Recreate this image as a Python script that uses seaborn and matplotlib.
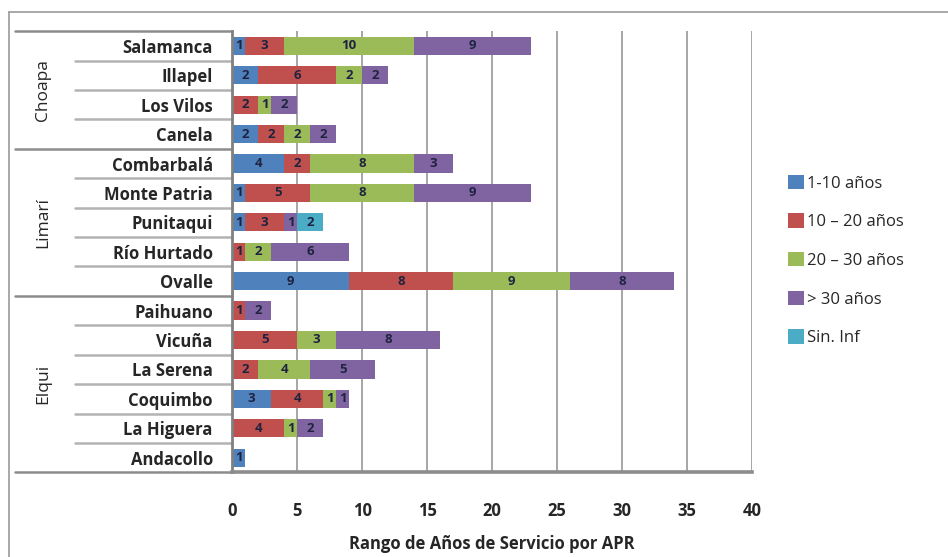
import seaborn as sns
import pandas as pd
import matplotlib.pyplot as plt
from matplotlib.patches import Patch
from matplotlib.lines import Line2D

municipios = ["Salamanca", "Illapel", "Los Vilos", "Canela", "Combarbalá",
              "Monte Patria", "Punitaqui", "Río Hurtado", "Ovalle", "Paihuano",
              "Vicuña", "La Serena", "Coquimbo", "La Higuera", "Andacollo"]
r1_10 = [1, 2, 0, 2, 4, 1, 1, 0, 9, 0, 0, 0, 3, 0, 1]
r10_20 = [3, 6, 2, 2, 2, 5, 3, 1, 8, 1, 5, 2, 4, 4, 0]
r20_30 = [10, 2, 1, 2, 8, 8, 0, 2, 9, 0, 3, 4, 1, 1, 0]
r30 = [9, 2, 2, 2, 3, 9, 1, 6, 8, 2, 8, 5, 1, 2, 0]
sin_inf = [0, 0, 0, 0, 0, 0, 2, 0, 0, 0, 0, 0, 0, 0, 0]

rangos = ["1-10 años", "10 – 20 años", "20 – 30 años", "> 30 años", "Sin. Inf"]
colores = ["#4F81BD", "#C0504D", "#9BBB59", "#8064A2", "#4BACC6"]

provincias = ["Choapa", "Limarí", "Elqui"]
n_por_provincia = [4, 5, 6]

df = pd.DataFrame({"municipio": municipios, rangos[0]: r1_10, rangos[1]: r10_20,
                   rangos[2]: r20_30, rangos[3]: r30, rangos[4]: sin_inf})
largo = df.melt(id_vars="municipio", var_name="rango", value_name="n")

sns.set_style("white")
plt.rcParams["font.family"] = ["Open Sans", "DejaVu Sans"]

fig = plt.figure(figsize=(9.48, 5.57), dpi=100)
ax = fig.add_axes([0.245, 0.152, 0.548, 0.792])

# histplot stacks the last hue level at the base, so pass the order reversed
sns.histplot(data=largo, y="municipio", weights="n", hue="rango",
             hue_order=rangos[::-1], palette=dict(zip(rangos, colores)),
             multiple="stack", discrete=True, shrink=0.62, alpha=1,
             linewidth=0, legend=False, ax=ax)

for c in ax.containers:
    etiquetas = [f"{p.get_width():g}" if p.get_width() > 0 else "" for p in c]
    ax.bar_label(c, labels=etiquetas, label_type="center", fontsize=9.5,
                 fontweight="bold", color="#1f2340")

n = len(municipios)
ax.set_ylim(n - 0.5, -0.5)
ax.set_xlim(0, 40)
ax.set_xticks(range(0, 41, 5))
ax.xaxis.grid(True, color="#a6a6a6", lw=1.4)
ax.yaxis.grid(False)
ax.set_axisbelow(True)

for s in ["top", "right"]:
    ax.spines[s].set_visible(False)
ax.spines["left"].set_color("#808080")
ax.spines["left"].set_linewidth(2)
ax.spines["bottom"].set_color("#8c8c8c")
ax.spines["bottom"].set_linewidth(2.6)

ax.tick_params(axis="x", length=5, width=1.5, color="#8c8c8c", pad=16,
               labelsize=12, labelcolor="#262626")
ax.tick_params(axis="y", length=0, pad=14, labelsize=12, labelcolor="#262626")
for t in ax.get_xticklabels() + ax.get_yticklabels():
    t.set_fontweight("bold")
ax.set_ylabel("")
ax.set_xlabel("Rango de Años de Servicio por APR", fontsize=12,
              fontweight="bold", color="#262626", labelpad=11)

# separator lines of the category table on the left
tr = ax.get_yaxis_transform()
limites_grupo = [-0.5]
acum = -0.5
for k in n_por_provincia:
    acum += k
    limites_grupo.append(acum)
for i in range(n + 1):
    y = i - 0.5
    if y in limites_grupo:
        ax.add_line(Line2D([-0.418, 0], [y, y], transform=tr, color="#8c8c8c",
                           lw=1.8, clip_on=False))
    else:
        ax.add_line(Line2D([-0.302, 0], [y, y], transform=tr, color="#b3b3b3",
                           lw=1.8, clip_on=False))

for prov, ini, fin in zip(provincias, limites_grupo[:-1], limites_grupo[1:]):
    ax.text(-0.364, (ini + fin) / 2, prov, transform=tr, rotation=90,
            ha="center", va="center", fontsize=12.5, color="#262626")

# outer chart frame (top and left edges)
fig.add_artist(Line2D([0.009, 1.0], [0.978, 0.978], transform=fig.transFigure,
                      color="#9a9a9a", lw=1.2))
fig.add_artist(Line2D([0.009, 0.009], [0.0, 0.978], transform=fig.transFigure,
                      color="#9a9a9a", lw=1.2))

handles = [Patch(facecolor=c, edgecolor="none") for c in colores]
fig.legend(handles, rangos, loc="upper left", bbox_to_anchor=(0.824, 0.698),
           frameon=False, fontsize=12, handlelength=0.95, handleheight=0.95,
           handletextpad=0.2, labelspacing=1.3, borderaxespad=0)

fig.savefig("out.png", dpi=100)
